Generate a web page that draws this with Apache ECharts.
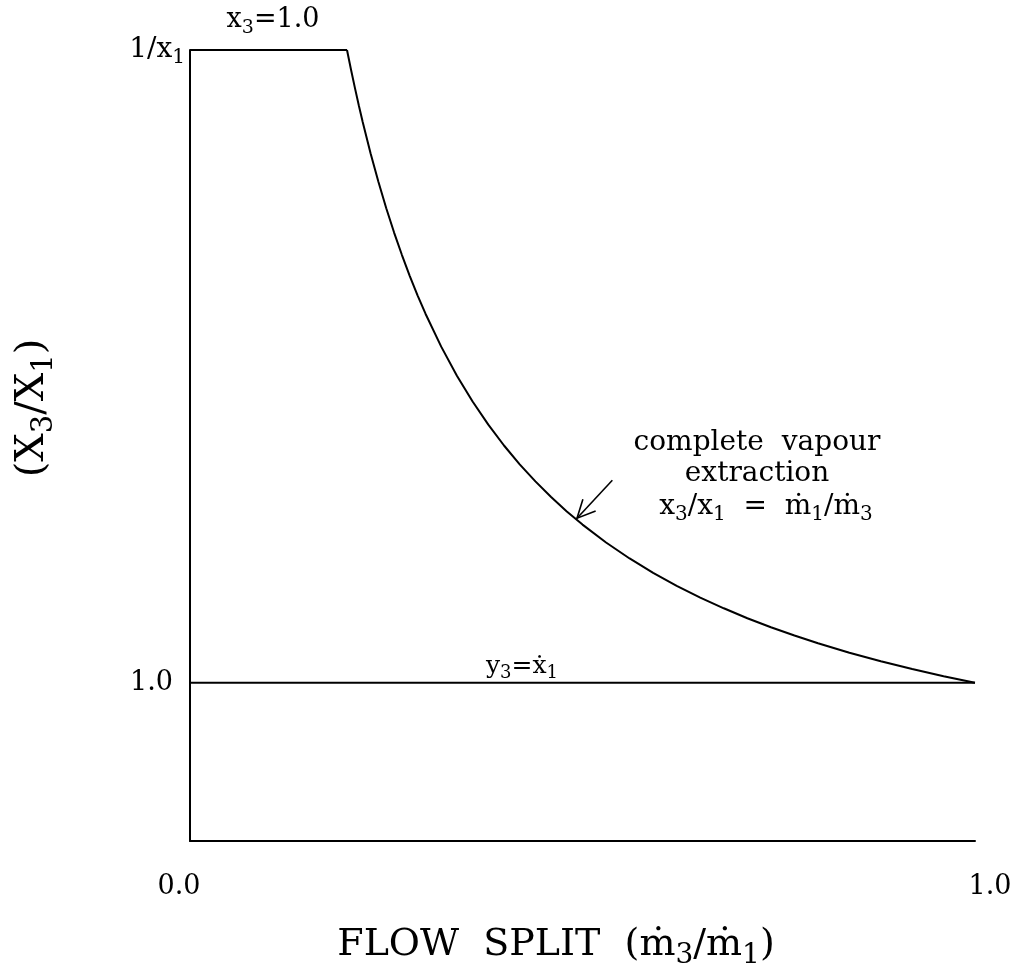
<!DOCTYPE html>
<html>
<head>
<meta charset="utf-8">
<script src="https://cdn.jsdelivr.net/npm/echarts@6/dist/echarts.min.js"></script>
<style>
  html, body { margin: 0; padding: 0; background: #fff; }
  #chart { width: 1015px; height: 976px; }
</style>
</head>
<body>
<div id="chart"></div>
<script>
// Flow split (m3/m1) against concentration ratio (x3/x1), with x1 = 0.2
const flatSegment = [[0.0, 5.0], [0.2, 5.0]];          // x3 = 1.0 plateau at 1/x1
const extractionCurve = [                                 // complete vapour extraction
  [0.200, 5.000], [0.205, 4.878], [0.210, 4.762], [0.215, 4.651], [0.220, 4.545],
  [0.230, 4.348], [0.240, 4.167], [0.250, 4.000], [0.260, 3.846], [0.270, 3.704],
  [0.280, 3.571], [0.290, 3.448], [0.300, 3.333], [0.320, 3.125], [0.340, 2.941],
  [0.360, 2.778], [0.380, 2.632], [0.400, 2.500], [0.420, 2.381], [0.440, 2.273],
  [0.460, 2.174], [0.480, 2.083], [0.500, 2.000], [0.530, 1.887], [0.560, 1.786],
  [0.590, 1.695], [0.620, 1.613], [0.650, 1.538], [0.680, 1.471], [0.710, 1.408],
  [0.740, 1.351], [0.770, 1.299], [0.800, 1.250], [0.840, 1.190], [0.880, 1.136],
  [0.920, 1.087], [0.960, 1.042], [1.000, 1.000]
];
const equalLine = [[0.0, 1.0], [1.0, 1.0]];               // y3 = x1
const xTickLabels = { 0: '{l|0.0}', 1: '{r|1.0}' };
const yTickLabels = { 1: '{n|1.0}', 5: '1/x{s|1}' };

const FONT = '"DejaVu Serif", "Liberation Serif", serif';
const chart = echarts.init(document.getElementById('chart'));

const lineStyle = { color: '#000', width: 2 };
// subscript token styles, lowered inside a taller line box
const subStyle = (size) => ({ fontFamily: FONT, fontSize: size, verticalAlign: 'bottom', lineHeight: size, color: '#000', fill: '#000' });

chart.setOption({
  animation: false,
  backgroundColor: '#fff',
  grid: { left: 190, right: 40, top: 50, bottom: 135, outerBoundsMode: 'none', containLabel: false },
  xAxis: {
    type: 'value', min: 0, max: 1, interval: 1,
    axisLine: { show: true, lineStyle: { color: '#000', width: 2 } },
    axisTick: { show: false },
    splitLine: { show: false },
    axisLabel: {
      margin: 32, fontFamily: FONT, fontSize: 27, color: '#000',
      formatter: v => xTickLabels[v] || '',
      rich: {
        l: { fontFamily: FONT, fontSize: 27, color: '#000', padding: [0, 22, 0, 0] },
        r: { fontFamily: FONT, fontSize: 27, color: '#000', padding: [0, 0, 0, 30] }
      }
    }
  },
  yAxis: {
    type: 'value', min: 0, max: 5, interval: 1,
    axisLine: { show: true, lineStyle: { color: '#000', width: 2 } },
    axisTick: { show: false },
    splitLine: { show: false },
    axisLabel: {
      margin: 5, fontFamily: FONT, fontSize: 28, color: '#000', lineHeight: 36,
      formatter: v => yTickLabels[v] || '',
      rich: {
        s: subStyle(20),
        n: { fontFamily: FONT, fontSize: 27, color: '#000', padding: [0, 12, 0, 0] }
      }
    }
  },
  series: [
    { type: 'line', data: flatSegment, symbol: 'none', lineStyle },
    { type: 'line', data: extractionCurve, symbol: 'none', smooth: false, lineStyle },
    { type: 'line', data: equalLine, symbol: 'none', lineStyle }
  ]
});

// annotations
const tip = chart.convertToPixel({ gridIndex: 0 }, [0.493, 2.04]);
const tail = chart.convertToPixel({ gridIndex: 0 }, [0.538, 2.28]);
const ang = Math.atan2(tail[1] - tip[1], tail[0] - tip[0]);
const head = 20, spread = 0.45;
const h1 = [tip[0] + head * Math.cos(ang + spread), tip[1] + head * Math.sin(ang + spread)];
const h2 = [tip[0] + head * Math.cos(ang - spread), tip[1] + head * Math.sin(ang - spread)];

const label = (x, y, text, size, subSize, extra) => Object.assign({
  type: 'text', x, y,
  style: {
    text, fontFamily: FONT, fontSize: size, lineHeight: Math.round(size * 1.3), fill: '#000',
    align: 'center', verticalAlign: 'middle',
    rich: { s: subStyle(subSize) }
  }
}, extra || {});

chart.setOption({
  graphic: [
    label(273, 20, 'x{s|3}=1.0', 27, 19),
    label(522, 666, 'y{s|3}=\u1e8b{s|1}', 25, 18),
    label(757, 443, 'complete  vapour', 28, 20),
    label(757, 474, 'extraction', 28, 20),
    label(766, 507, 'x{s|3}/x{s|1}  =  \u1e41{s|1}/\u1e41{s|3}', 28, 20),
    label(556, 945, 'FLOW  SPLIT  (\u1e41{s|3}/\u1e41{s|1})', 38, 28),
    label(33, 408, '(X{s|3}/X{s|1})', 40, 29, { rotation: Math.PI / 2 }),
    { type: 'line', shape: { x1: tail[0], y1: tail[1], x2: tip[0], y2: tip[1] }, style: { stroke: '#000', lineWidth: 1.6 } },
    { type: 'polyline', shape: { points: [h1, tip, h2] }, style: { stroke: '#000', lineWidth: 1.6, fill: null } }
  ]
});
</script>
</body>
</html>
